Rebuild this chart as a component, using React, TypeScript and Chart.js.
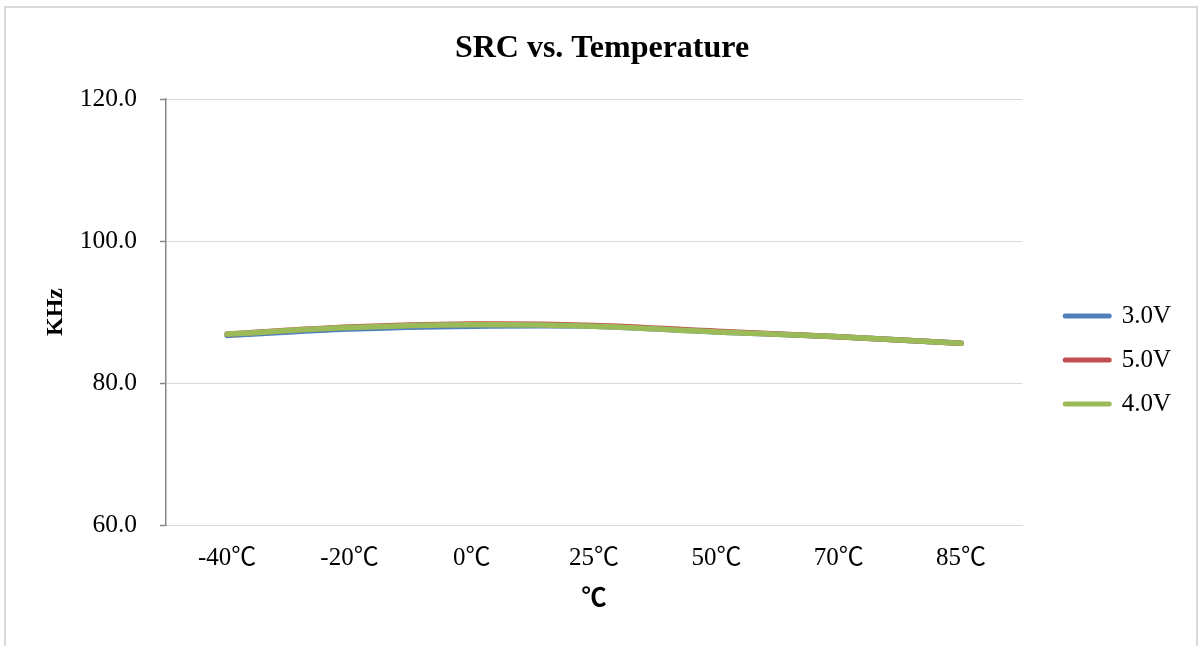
import React, { useEffect, useRef } from "react";
import { Chart, registerables } from "chart.js";

Chart.register(...registerables);

const categories = ["-40℃", "-20℃", "0℃", "25℃", "50℃", "70℃", "85℃"];
const series30V = [86.7, 87.6, 88.0, 88.0, 87.2, 86.5, 85.6];
const series50V = [86.9, 87.9, 88.3, 88.1, 87.3, 86.5, 85.6];
const series40V = [86.9, 87.8, 88.2, 88.0, 87.2, 86.5, 85.6];
const seriesNames = ["3.0V", "5.0V", "4.0V"];
const seriesColors = ["#4F81BD", "#C0504D", "#9BBB59"];
const yTicks = [60, 80, 100, 120];

const FONT = "'Liberation Serif', 'Times New Roman', 'Noto Sans CJK SC', serif";

export default function App() {
  const ref = useRef<HTMLCanvasElement | null>(null);

  useEffect(() => {
    if (!ref.current) return;
    const values = [series30V, series50V, series40V];
    const orders = [2, 1, 0];
    const chart = new Chart(ref.current, {
      type: "line",
      data: {
        labels: categories,
        datasets: values.map((v, i) => ({
          label: seriesNames[i],
          data: v,
          borderColor: seriesColors[i],
          backgroundColor: seriesColors[i],
          borderWidth: 5.5,
          borderCapStyle: "round" as const,
          borderJoinStyle: "round" as const,
          pointRadius: 0,
          pointHoverRadius: 0,
          tension: 0.3,
          fill: false,
          order: orders[i],
        })),
      },
      options: {
        responsive: false,
        devicePixelRatio: 1,
        animation: false,
        layout: { padding: { left: 23, right: 19, top: 0, bottom: 10 } },
        plugins: {
          title: {
            display: true,
            text: "SRC vs. Temperature",
            color: "#000",
            font: { family: FONT, size: 32, weight: "bold", lineHeight: 1.2 },
            padding: { top: 30, bottom: 30.6 },
          },
          legend: {
            display: true,
            position: "right",
            title: {
              display: true,
              text: " ",
              font: { family: FONT, size: 12, lineHeight: 1.2 },
              padding: { top: 0, bottom: 69.6 },
            },
            labels: {
              color: "#000",
              font: { family: FONT, size: 25 },
              padding: 19,
              usePointStyle: true,
              pointStyleWidth: 44,
              sort: (a: any, b: any) => a.datasetIndex - b.datasetIndex,
              generateLabels: (c: any) => {
                const items = Chart.defaults.plugins.legend.labels.generateLabels(c);
                return items.map((it: any) => ({
                  ...it,
                  pointStyle: "line",
                  lineWidth: 5,
                  lineCap: "round",
                  strokeStyle: seriesColors[it.datasetIndex],
                  fillStyle: seriesColors[it.datasetIndex],
                }));
              },
            },
          },
          tooltip: { enabled: false },
        },
        scales: {
          x: {
            type: "category",
            offset: true,
            grid: { display: false, drawTicks: false },
            border: { display: true, color: "#d9d9d9", width: 1 },
            ticks: {
              color: "#000",
              font: { family: FONT, size: 25 },
              padding: 18,
              maxRotation: 0,
              autoSkip: false,
            },
            title: {
              display: true,
              text: "℃",
              color: "#000",
              font: { family: FONT, size: 25, weight: "bold", lineHeight: 1.2 },
              padding: { top: 0, bottom: 21 },
            },
            afterFit: (s: any) => {
              s.height = 111;
            },
          },
          y: {
            type: "linear",
            min: 60,
            max: 120,
            afterBuildTicks: (s: any) => {
              s.ticks = yTicks.map((v) => ({ value: v }));
            },
            grid: {
              display: true,
              color: "#d9d9d9",
              lineWidth: 1,
              drawTicks: true,
              tickLength: 6,
              tickColor: "#868686",
              tickWidth: 1.5,
            },
            border: { display: true, color: "#868686", width: 1.5 },
            ticks: {
              color: "#000",
              font: { family: FONT, size: 25.5 },
              padding: 23,
              callback: (v: any) => Number(v).toFixed(1),
            },
            title: {
              display: true,
              text: "KHz",
              color: "#000",
              font: { family: FONT, size: 24, weight: "bold", lineHeight: 1.2 },
              padding: { top: 18, bottom: 0 },
            },
            afterFit: (s: any) => {
              s.width = 143;
            },
          },
          gap: {
            type: "linear",
            position: "right",
            display: true,
            grid: { display: false, drawTicks: false },
            border: { display: false },
            ticks: { display: false },
            afterFit: (s: any) => {
              s.width = 24;
            },
          },
        },
      } as any,
    });
    return () => chart.destroy();
  }, []);

  return (
    <div style={{ position: "absolute", left: 0, top: 0, width: 1200, height: 646, background: "#fff", overflow: "hidden" }}>
      <div
        style={{
          position: "absolute",
          left: 4,
          top: 6,
          width: 1194,
          height: 700,
          border: "2px solid #d9d9d9",
          boxSizing: "border-box",
        }}
      />
      <canvas ref={ref} width={1200} height={646} style={{ position: "absolute", left: 0, top: 0, width: 1200, height: 646 }} />
    </div>
  );
}
